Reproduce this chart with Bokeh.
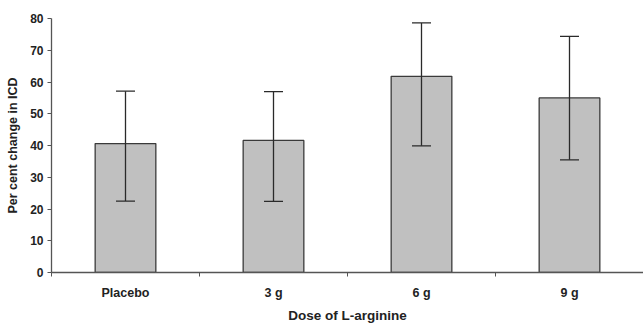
import numpy as np
from bokeh.plotting import figure
from bokeh.models import ColumnDataSource, Range1d, FixedTicker, Whisker, TeeHead
from bokeh.embed import file_html
from bokeh.resources import INLINE

categories = ["Placebo", "3 g", "6 g", "9 g"]
means = [40.6, 41.6, 61.8, 55.0]
err_upper = [57.1, 57.0, 78.6, 74.4]
err_lower = [22.5, 22.4, 39.9, 35.5]
y_ticks = [0, 10, 20, 30, 40, 50, 60, 70, 80]

x_pos = np.arange(len(categories)) + 0.5
source = ColumnDataSource(dict(x=x_pos, top=means, upper=err_upper, lower=err_lower))

FONT = "Liberation Sans"
AXIS_COLOR = "#555555"

p = figure(width=643, height=326, output_backend="svg", toolbar_location=None,
           x_range=Range1d(0, len(categories)), y_range=Range1d(0, 80),
           min_border_left=51, min_border_right=0, min_border_top=18, min_border_bottom=54)
p.outline_line_color = None
p.xgrid.visible = False
p.ygrid.visible = False
p.background_fill_color = "white"
p.border_fill_color = "white"

p.vbar(x="x", top="top", width=0.41, bottom=0, source=source,
       fill_color="#c0c0c0", line_color="#3a3a3a", line_width=1.3)

w = Whisker(source=source, base="x", upper="upper", lower="lower",
            line_color="#2a2a2a", line_width=1.3, level="overlay",
            upper_head=TeeHead(size=19, line_color="#2a2a2a", line_width=1.3),
            lower_head=TeeHead(size=19, line_color="#2a2a2a", line_width=1.3))
p.add_layout(w)

# x axis
xa = p.xaxis[0]
xa.ticker = FixedTicker(ticks=list(x_pos), minor_ticks=list(range(len(categories) + 1)))
xa.major_label_overrides = {float(x): c for x, c in zip(x_pos, categories)}
xa.major_tick_out = 0
xa.major_tick_in = 0
xa.minor_tick_out = 4
xa.minor_tick_in = 0
xa.minor_tick_line_color = AXIS_COLOR
xa.axis_line_color = AXIS_COLOR
xa.axis_line_width = 1.3
xa.major_label_standoff = 9
xa.major_label_text_font = FONT
xa.major_label_text_font_style = "bold"
xa.major_label_text_font_size = "12.5px"
xa.major_label_text_color = "#222222"
xa.axis_label = "Dose of L-arginine"
xa.axis_label_text_font = FONT
xa.axis_label_text_font_style = "bold"
xa.axis_label_text_font_size = "13.5px"
xa.axis_label_text_color = "#222222"
xa.axis_label_standoff = 5

# y axis
ya = p.yaxis[0]
ya.ticker = FixedTicker(ticks=y_ticks)
ya.minor_tick_line_color = None
ya.major_tick_out = 4
ya.major_tick_in = 0
ya.major_tick_line_color = AXIS_COLOR
ya.axis_line_color = AXIS_COLOR
ya.axis_line_width = 1.3
ya.major_label_standoff = 4
ya.major_label_text_font = FONT
ya.major_label_text_font_style = "bold"
ya.major_label_text_font_size = "12px"
ya.major_label_text_color = "#222222"
ya.axis_label = "Per cent change in ICD"
ya.axis_label_text_font = FONT
ya.axis_label_text_font_style = "bold"
ya.axis_label_text_font_size = "12.5px"
ya.axis_label_text_color = "#222222"
ya.axis_label_standoff = 7

open("out.html", "w").write(file_html(p, INLINE))
